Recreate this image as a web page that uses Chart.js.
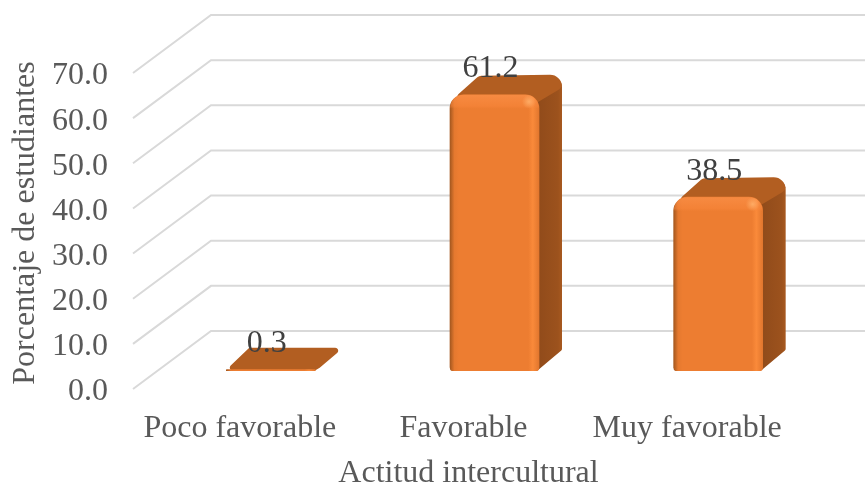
<!DOCTYPE html>
<html>
<head>
<meta charset="utf-8">
<style>
  html, body { margin: 0; padding: 0; background: #fff; }
  canvas { display: block; }
</style>
<script src="https://cdn.jsdelivr.net/npm/chart.js@4/dist/chart.umd.min.js"></script>
</head>
<body>
<canvas id="actitudChart" width="865" height="485"></canvas>
<script>
const categories = ['Poco favorable', 'Favorable', 'Muy favorable'];
const percentages = [0.3, 61.2, 38.5];
const yTitle = 'Porcentaje de estudiantes';
const xTitle = 'Actitud intercultural';

const FONT = "'Liberation Serif', 'Times New Roman', serif";
const WALL_DX = 78, WALL_DY = -58;   // front edge of the side wall to the back wall
const BAR_DX = 26, BAR_DY = -18;     // bars stand a little behind the front edge
const DEPTH_DX = 23, DEPTH_DY = -21; // depth of each bar
const BAR_WIDTH = 89;

function roundedPoly(ctx, pts) {
  // pts: [x, y, radius]
  const n = pts.length;
  ctx.beginPath();
  ctx.moveTo((pts[n - 1][0] + pts[0][0]) / 2, (pts[n - 1][1] + pts[0][1]) / 2);
  for (let i = 0; i < n; i++) {
    const p = pts[i], q = pts[(i + 1) % n];
    ctx.arcTo(p[0], p[1], q[0], q[1], p[2]);
  }
  ctx.closePath();
}

const wallPlugin = {
  id: 'wall',
  beforeDatasetsDraw(chart) {
    const { ctx, scales: { x, y } } = chart;
    ctx.save();
    ctx.strokeStyle = '#d9d9d9';
    ctx.lineWidth = 2;
    y.ticks.forEach(t => {
      const py = y.getPixelForValue(t.value);
      ctx.beginPath();
      ctx.moveTo(x.left, py);
      ctx.lineTo(x.left + WALL_DX, py + WALL_DY);
      ctx.lineTo(chart.width, py + WALL_DY);
      ctx.stroke();
    });
    ctx.restore();

    // side and top faces go under the front faces
    const meta = chart.getDatasetMeta(0);
    ctx.save();
    ctx.translate(BAR_DX, BAR_DY);
    meta.data.forEach(bar => {
      const l = bar.x - bar.width / 2, r = bar.x + bar.width / 2;
      const t = bar.y, b = bar.base;
      const tall = b - t > 20;
      const dx = DEPTH_DX, dy = DEPTH_DY;
      if (tall) {
        const side = ctx.createLinearGradient(r - 4, 0, r + dx, 0);
        side.addColorStop(0, '#8f4a1a');
        side.addColorStop(0.85, '#9c521d');
        side.addColorStop(1, '#a8591f');
        ctx.fillStyle = side;
        roundedPoly(ctx, [[r - 12, t, 4], [r + dx - 12, t + dy + 3, 4], [r + dx, t + dy + 3, 10], [r + dx, b + dy, 2], [r - 2, b, 4], [r - 12, b, 2]]);
        ctx.fill();
      }
      ctx.fillStyle = '#b25e21';
      if (tall) {
        roundedPoly(ctx, [[l + 1, t + 6, 4], [l + 29, t + dy + 2, 6], [r + dx, t + dy + 1, 12], [r + dx, t + dy + 14, 6], [r - 2, t + 8, 6]]);
      } else {
        roundedPoly(ctx, [[l - 1, t + 1, 3], [l + dx, t + dy - 1, 3], [r + dx + 5, t + dy - 1, 3], [r + 1, t + 1, 12]]);
      }
      ctx.fill();
    });
    ctx.restore();

    // front faces shifted back with the bars, undone in afterDatasetsDraw
    ctx.save();
    ctx.translate(BAR_DX, BAR_DY);
  },
  afterDatasetsDraw(chart) {
    const { ctx } = chart;
    const meta = chart.getDatasetMeta(0);
    // top bevel of the front face
    meta.data.forEach(bar => {
      if (bar.base - bar.y < 20) return;
      const l = bar.x - bar.width / 2, r = bar.x + bar.width / 2, t = bar.y;
      const bevel = ctx.createLinearGradient(0, t, 0, t + 14);
      bevel.addColorStop(0, 'rgba(255,150,80,0.55)');
      bevel.addColorStop(0.8, 'rgba(250,135,60,0.5)');
      bevel.addColorStop(1, 'rgba(250,135,60,0)');
      ctx.fillStyle = bevel;
      roundedPoly(ctx, [[l, t, 14], [r, t, 14], [r, t + 14, 0], [l, t + 14, 0]]);
      ctx.fill();
      const glow = ctx.createRadialGradient(r - 10, t + 7, 0, r - 10, t + 7, 7);
      glow.addColorStop(0, 'rgba(255,175,105,0.9)');
      glow.addColorStop(1, 'rgba(255,175,105,0)');
      ctx.fillStyle = glow;
      ctx.fillRect(r - 18, t, 16, 16);
    });
    ctx.restore();

    // value labels
    ctx.save();
    ctx.font = '32px ' + FONT;
    ctx.fillStyle = '#404040';
    ctx.textAlign = 'center';
    ctx.textBaseline = 'middle';
    meta.data.forEach((bar, i) => {
      ctx.fillText(percentages[i].toFixed(1), bar.x + BAR_DX - 4, bar.y + BAR_DY - 26);
    });
    ctx.restore();

    // y title sits above the centre of the scale
    ctx.save();
    ctx.font = '32px ' + FONT;
    ctx.fillStyle = '#595959';
    ctx.textAlign = 'center';
    ctx.textBaseline = 'middle';
    ctx.translate(26, 223);
    ctx.rotate(-Math.PI / 2);
    ctx.fillText(yTitle, 0, 0);
    ctx.restore();
  }
};

const barFill = context => {
  const xScale = context.chart.scales.x;
  if (!xScale || context.dataIndex === undefined) return '#ed7d31';
  const l = xScale.getPixelForValue(context.dataIndex) - BAR_WIDTH / 2;
  if (!isFinite(l)) return '#ed7d31';
  const g = context.chart.ctx.createLinearGradient(l, 0, l + BAR_WIDTH, 0);
  g.addColorStop(0, '#a5581f');
  g.addColorStop(0.05, '#e5792f');
  g.addColorStop(0.1, '#ed7d31');
  g.addColorStop(0.88, '#ed7d31');
  g.addColorStop(0.93, '#fa8a3a');
  g.addColorStop(1, '#e2772e');
  return g;
};

new Chart(document.getElementById('actitudChart'), {
  type: 'bar',
  data: {
    labels: categories,
    datasets: [{
      data: percentages,
      backgroundColor: barFill,
      barThickness: BAR_WIDTH,
      borderSkipped: false,
      borderRadius: { topLeft: 14, topRight: 14, bottomLeft: 4, bottomRight: 4 }
    }]
  },
  options: {
    responsive: false,
    animation: false,
    layout: { padding: { top: 73, right: 61, bottom: 0, left: 0 } },
    plugins: {
      legend: { display: false },
      tooltip: { enabled: false }
    },
    scales: {
      x: {
        grid: { display: false },
        border: { display: false },
        ticks: { color: '#595959', font: { family: FONT, size: 32 }, padding: 12, labelOffset: -5, maxRotation: 0, autoSkip: false },
        title: { display: true, text: xTitle, color: '#595959', font: { family: FONT, size: 32 }, padding: { top: 0, bottom: -8 } },
        afterFit(scale) { scale.height = 96; }
      },
      y: {
        min: 0,
        max: 70,
        grid: { display: false },
        border: { display: false },
        ticks: {
          stepSize: 10,
          color: '#595959',
          font: { family: FONT, size: 32 },
          padding: 17,
          labelOffset: 3,
          callback: v => v.toFixed(1)
        },
        afterFit(scale) { scale.width = 133; }
      }
    }
  },
  plugins: [wallPlugin]
});
</script>
</body>
</html>
